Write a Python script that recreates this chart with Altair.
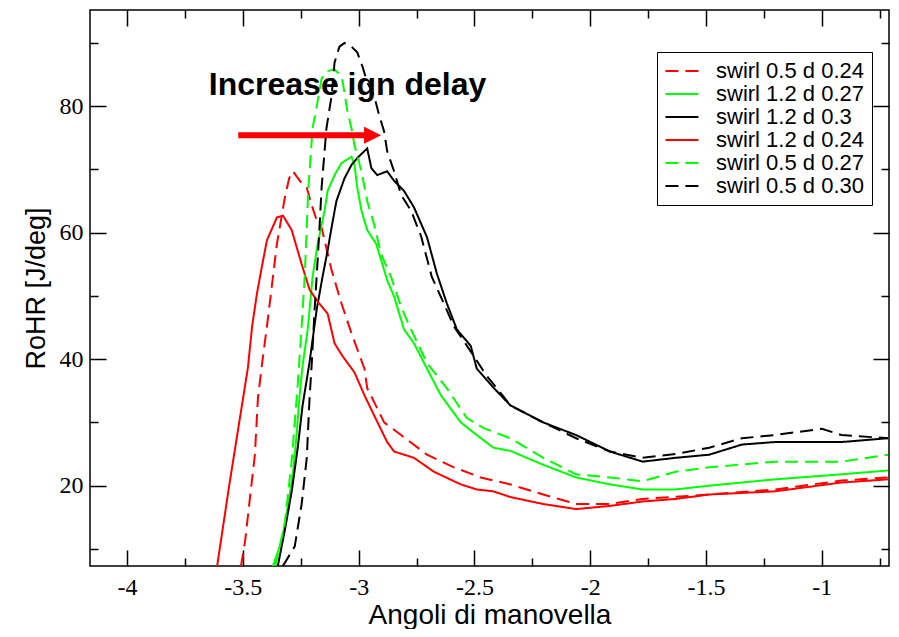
import altair as alt
import pandas as pd

SERIES = ["swirl 0.5 d 0.24", "swirl 1.2 d 0.27", "swirl 1.2 d 0.3",
          "swirl 1.2 d 0.24", "swirl 0.5 d 0.27", "swirl 0.5 d 0.30"]
COLORS = ["#ff0000", "#00ff00", "#000000", "#ff0000", "#00ff00", "#000000"]
DASHES = [[13, 7], [1, 0], [1, 0], [1, 0], [13, 7], [13, 7]]

# swirl 0.5 d 0.24 (red dashed)
x_r_dash = [-3.508, -3.490, -3.469, -3.448, -3.435, -3.418, -3.396, -3.375, -3.353, -3.319,
            -3.300, -3.284, -3.246, -3.224, -3.203, -3.181, -3.160, -3.117, -3.074, -3.031,
            -2.975, -2.963, -2.933, -2.890, -2.817, -2.705, -2.589, -2.473, -2.345, -2.203,
            -2.061, -1.915, -1.774, -1.486, -1.203, -0.915, -0.714]
y_r_dash = [7.3, 11.3, 18.2, 24.9, 33.8, 39.0, 45.2, 51.5, 58.2, 65.5,
            68.6, 69.7, 67.8, 67.1, 64.4, 61.9, 60.8, 54.1, 48.8, 44.1,
            38.5, 35.4, 33.2, 30.0, 28.0, 24.9, 22.9, 21.3, 20.2, 18.6,
            17.1, 17.1, 17.9, 18.6, 19.4, 20.8, 21.3]

# swirl 1.2 d 0.27 (green solid)
x_g_sol = [-3.370, -3.332, -3.306, -3.284, -3.267, -3.254, -3.242, -3.220, -3.199, -3.177,
           -3.147, -3.134, -3.104, -3.074, -3.031, -3.018, -3.006, -2.988, -2.963, -2.924,
           -2.903, -2.877, -2.847, -2.804, -2.761, -2.705, -2.645, -2.559, -2.490, -2.418,
           -2.345, -2.203, -2.061, -1.915, -1.774, -1.632, -1.486, -1.203, -0.915, -0.714]
y_g_sol = [7.3, 11.3, 16.6, 21.8, 28.5, 34.7, 39.0, 44.7, 53.0, 58.2,
           63.5, 66.6, 69.1, 71.0, 72.0, 70.7, 67.1, 63.5, 60.4, 58.2,
           55.7, 52.5, 49.9, 44.7, 42.5, 38.5, 34.3, 30.0, 28.0, 26.0,
           25.5, 23.3, 21.3, 20.2, 19.4, 19.4, 20.0, 21.0, 21.8, 22.4]

# swirl 1.2 d 0.3 (black solid)
x_k_sol = [-3.349, -3.319, -3.289, -3.263, -3.242, -3.212, -3.181, -3.156, -3.134, -3.117,
           -3.096, -3.061, -3.031, -3.006, -2.975, -2.963, -2.945, -2.920, -2.877, -2.847,
           -2.804, -2.761, -2.705, -2.662, -2.619, -2.576, -2.516, -2.490, -2.418, -2.345,
           -2.203, -2.061, -1.915, -1.774, -1.632, -1.486, -1.345, -1.203, -0.915, -0.714]
y_k_sol = [7.3, 12.9, 19.1, 26.0, 32.7, 39.5, 47.9, 53.0, 57.2, 60.8,
           65.0, 68.6, 70.7, 71.8, 72.9, 73.3, 70.2, 69.1, 69.7, 68.2,
           66.6, 64.0, 59.3, 53.5, 48.8, 44.7, 42.1, 38.5, 35.5, 32.7,
           30.0, 28.0, 25.4, 23.8, 24.4, 24.9, 26.5, 26.9, 26.9, 27.5]

# swirl 1.2 d 0.24 (red solid)
x_r_sol = [-3.611, -3.559, -3.478, -3.460, -3.439, -3.418, -3.396, -3.353, -3.327, -3.289,
           -3.246, -3.212, -3.177, -3.134, -3.104, -3.070, -3.018, -2.975, -2.933, -2.877,
           -2.847, -2.761, -2.675, -2.559, -2.490, -2.418, -2.345, -2.203, -2.061, -1.915,
           -1.774, -1.632, -1.486, -1.203, -0.915, -0.714]
y_r_sol = [7.3, 20.0, 38.7, 45.2, 50.4, 54.6, 58.8, 62.4, 62.7, 60.4,
           55.0, 51.0, 49.1, 47.2, 42.5, 40.5, 37.9, 34.3, 31.1, 26.9,
           25.4, 24.4, 22.2, 20.2, 19.4, 19.1, 18.2, 17.1, 16.3, 16.8,
           17.5, 17.9, 18.6, 19.1, 20.5, 21.0]

# swirl 0.5 d 0.27 (green dashed)
x_g_dash = [-3.360, -3.319, -3.289, -3.276, -3.263, -3.246, -3.233, -3.224, -3.218, -3.199,
            -3.181, -3.160, -3.139, -3.104, -3.074, -3.066, -3.048, -3.031, -3.018, -2.988,
            -2.963, -2.933, -2.903, -2.860, -2.817, -2.774, -2.705, -2.619, -2.533, -2.460,
            -2.345, -2.203, -2.061, -1.915, -1.774, -1.632, -1.486, -1.203, -0.915, -0.714]
y_g_dash = [7.3, 14.0, 24.0, 30.0, 36.0, 45.2, 53.0, 60.8, 66.5, 76.5,
            80.0, 84.3, 85.5, 85.8, 84.7, 83.2, 79.1, 76.5, 73.8, 69.7,
            65.0, 61.3, 56.6, 53.0, 48.3, 44.7, 39.4, 35.4, 30.7, 29.1,
            27.5, 24.4, 21.8, 21.3, 20.7, 22.2, 22.9, 23.8, 23.8, 24.9]

# swirl 0.5 d 0.30 (black dashed)
x_k_dash = [-3.327, -3.276, -3.246, -3.224, -3.212, -3.203, -3.190, -3.177, -3.169, -3.160,
            -3.139, -3.117, -3.104, -3.083, -3.061, -3.031, -3.006, -2.984, -2.963, -2.933,
            -2.911, -2.890, -2.877, -2.847, -2.817, -2.774, -2.731, -2.684, -2.632, -2.589,
            -2.503, -2.448, -2.388, -2.345, -2.203, -2.061, -1.915, -1.774, -1.632, -1.486,
            -1.345, -1.203, -1.000, -0.915, -0.714]
y_k_dash = [7.3, 10.4, 17.1, 24.4, 33.8, 39.0, 47.9, 55.7, 60.8, 67.1,
            76.5, 81.6, 86.9, 89.4, 90.0, 89.4, 88.5, 86.3, 83.8, 81.6,
            78.5, 76.0, 72.9, 69.7, 66.0, 63.5, 59.5, 53.0, 48.8, 45.2,
            40.5, 37.4, 34.7, 32.7, 30.0, 27.5, 25.4, 24.4, 25.0, 26.0,
            27.5, 28.0, 29.0, 28.0, 27.5]

X_DOMAIN = [-4.16, -0.71]
Y_DOMAIN = [7.3, 95.2]
X_MAJOR = [-4, -3.5, -3, -2.5, -2, -1.5, -1]
X_MINOR = [-3.75, -3.25, -2.75, -2.25, -1.75, -1.25, -0.75]
Y_MAJOR = [20, 40, 60, 80]
Y_MINOR = [10, 30, 50, 70, 90]

ANN_TEXT = ["Increase ign delay"]
ANN_X = [-3.048]
ANN_Y = [81.8]
ARROW_X = [-3.52]
ARROW_X2 = [-2.94]
ARROW_Y = [75.4]

W, H = 799, 556

series_data = [
    (SERIES[0], x_r_dash, y_r_dash),
    (SERIES[1], x_g_sol, y_g_sol),
    (SERIES[2], x_k_sol, y_k_sol),
    (SERIES[3], x_r_sol, y_r_sol),
    (SERIES[4], x_g_dash, y_g_dash),
    (SERIES[5], x_k_dash, y_k_dash),
]
rows = []
for name, xs_, ys_ in series_data:
    for i, (a, b) in enumerate(zip(xs_, ys_)):
        rows.append({"series": name, "x": a, "y": b, "i": i})
df = pd.DataFrame(rows)

xsc = alt.Scale(domain=X_DOMAIN, nice=False, zero=False)
ysc = alt.Scale(domain=Y_DOMAIN, nice=False, zero=False)

leg = alt.Legend(
    orient="none", legendX=567, legendY=42, title=None,
    symbolType="M-1.6,0H3.4", symbolSize=174, symbolStrokeWidth=2,
    labelFont="Liberation Sans", labelFontSize=22, labelColor="black",
    labelOffset=29, rowPadding=1, padding=8,
    strokeColor="black", fillColor="white",
)

lines = alt.Chart(df).mark_line(strokeWidth=2, clip=True).encode(
    x=alt.X("x:Q", scale=xsc, axis=alt.Axis(
        orient="bottom", values=X_MAJOR, offset=-16, tickSize=16, tickWidth=1.5,
        tickColor="black", labelPadding=9, labelFont="Liberation Serif",
        labelFontSize=24, labelColor="black", labelExpr="'' + datum.value",
        labelFlush=False, grid=False, domain=False,
        title="Angoli di manovella", titleFont="Liberation Sans", titleFontSize=28,
        titleFontWeight="normal", titleColor="black",
        titleBaseline="alphabetic", titleY=73)),
    y=alt.Y("y:Q", scale=ysc, axis=alt.Axis(
        orient="left", values=Y_MAJOR, offset=-16, tickSize=16, tickWidth=1.5,
        tickColor="black", labelPadding=7, labelFont="Liberation Serif",
        labelFontSize=24, labelColor="black", grid=False, domain=False,
        title="RoHR [J/deg]", titleFont="Liberation Sans", titleFontSize=27,
        titleFontWeight="normal", titleColor="black", titlePadding=9)),
    color=alt.Color("series:N", scale=alt.Scale(domain=SERIES, range=COLORS), legend=leg),
    strokeDash=alt.StrokeDash("series:N", scale=alt.Scale(domain=SERIES, range=DASHES), legend=leg),
    order="i:Q",
)

lim = pd.DataFrame({"x": X_DOMAIN, "y": Y_DOMAIN})


def tick_layer(xvals, yvals, xoff, yoff, size):
    return alt.Chart(lim).mark_point(opacity=0).encode(
        x=alt.X("x:Q", scale=xsc, axis=alt.Axis(
            orient="bottom", values=xvals, offset=xoff, tickSize=size, tickWidth=1.5,
            tickColor="black", labels=False, grid=False, domain=False, title=None)),
        y=alt.Y("y:Q", scale=ysc, axis=alt.Axis(
            orient="left", values=yvals, offset=yoff, tickSize=size, tickWidth=1.5,
            tickColor="black", labels=False, grid=False, domain=False, title=None)),
    )


t_major_far = tick_layer(X_MAJOR, Y_MAJOR, -H, -W, 16)
t_minor_near = tick_layer(X_MINOR, Y_MINOR, -8, -8, 8)
t_minor_far = tick_layer(X_MINOR, Y_MINOR, -H, -W, 8)

ann = alt.Chart(pd.DataFrame({"x": ANN_X, "y": ANN_Y, "t": ANN_TEXT})).mark_text(
    font="Liberation Sans", fontSize=32, fontWeight="bold", color="black",
    align="center", baseline="alphabetic").encode(
    x=alt.X("x:Q", scale=xsc, axis=None),
    y=alt.Y("y:Q", scale=ysc, axis=None),
    text="t:N",
)

arrow_df = pd.DataFrame({"x": ARROW_X, "x2": ARROW_X2, "y": ARROW_Y})
shaft = alt.Chart(arrow_df).mark_rule(color="#ff0000", strokeWidth=6).encode(
    x=alt.X("x:Q", scale=xsc, axis=None),
    x2="x2:Q",
    y=alt.Y("y:Q", scale=ysc, axis=None),
)
head = alt.Chart(arrow_df).mark_point(
    shape="M-1,-1L1,0L-1,1Z", size=289, filled=True, color="#ff0000", opacity=1,
    strokeWidth=0).encode(
    x=alt.X("x2:Q", scale=xsc, axis=None),
    y=alt.Y("y:Q", scale=ysc, axis=None),
)

chart = alt.layer(
    t_major_far, t_minor_near, t_minor_far, lines, shaft, head, ann
).resolve_axis(x="independent", y="independent").properties(
    width=W, height=H,
    autosize=alt.AutoSizeParams(type="none"),
    padding={"left": 82, "top": 2, "right": 2, "bottom": 63},
    background="white",
).configure_view(stroke="black", strokeWidth=1.5)

chart.save("out.html", embed_options={"renderer": "svg", "actions": False})
